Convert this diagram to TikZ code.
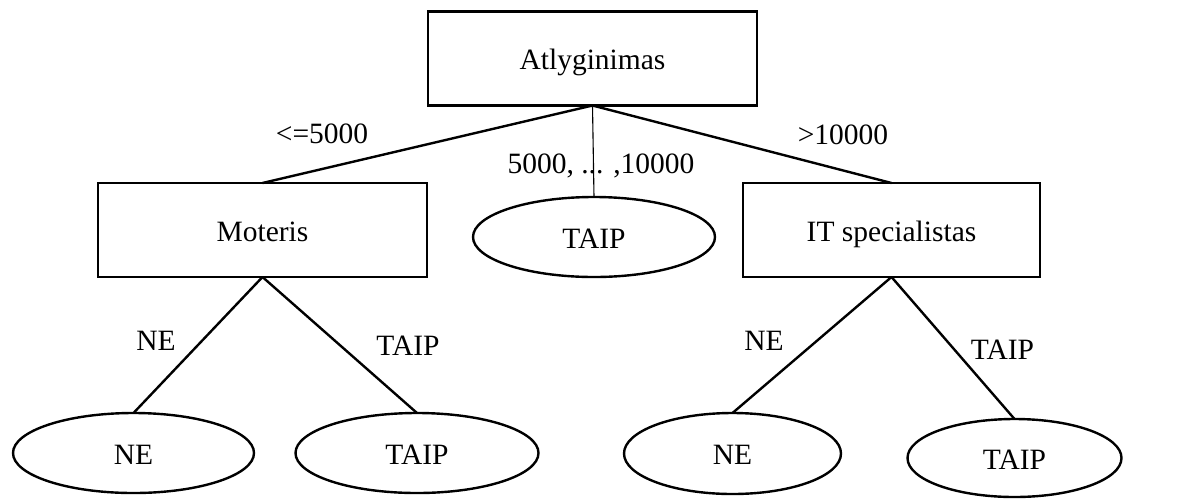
\documentclass[tikz,border=0pt]{standalone}
\usepackage{fontspec}
\setmainfont{Liberation Serif}
\usetikzlibrary{shapes.geometric}
\begin{document}
\begin{tikzpicture}[x=1pt,y=-1pt,
  every node/.style={font=\fontsize{29.5pt}{35pt}\selectfont, inner sep=0pt, outer sep=0pt},
  box/.style={draw, line width=2.4pt, rectangle, minimum height=94pt, text height=26.5pt, text depth=4.5pt},
  leaf/.style={draw, line width=2.4pt, ellipse, text height=26.5pt, text depth=4.5pt},
  edge/.style={line width=2.4pt},
  thinedge/.style={line width=1.1pt},
  lbl/.style={anchor=base}]
\useasboundingbox (0,0) rectangle (1180,499);

% decision nodes
\node[box, minimum width=329pt] (root) at (592.5,58.5) {Atlyginimas};
\node[box, minimum width=329pt] (mot) at (262.5,230) {Moteris};
\node[box, minimum width=297pt] (it) at (891.5,230) {IT specialistas};

% leaves
\node[leaf, minimum width=242pt, minimum height=80pt] (mid) at (594,237) {TAIP};
\node[leaf, minimum width=241pt, minimum height=80pt] (mne) at (133.5,453) {NE};
\node[leaf, minimum width=243pt, minimum height=80pt] (mtaip) at (417,453) {TAIP};
\node[leaf, minimum width=217pt, minimum height=81pt] (ine) at (732.5,453.5) {NE};
\node[leaf, minimum width=214pt, minimum height=78pt] (itaip) at (1014.5,458) {TAIP};

% branches
\draw[edge] (root.south) -- (mot.north);
\draw[thinedge] (root.south) -- (mid.north);
\draw[edge] (root.south) -- (it.north);
\draw[edge] (mot.south) -- (mne.north);
\draw[edge] (mot.south) -- (mtaip.north);
\draw[edge] (it.south) -- (ine.north);
\draw[edge] (it.south) -- (itaip.north);

% branch labels
\node[lbl] (l1) at (322,143) {<=5000};
\node[lbl] (l2) at (601,173) {5000, ... ,10000};
\node[lbl] (l3) at (843,144) {>10000};
\node[lbl] (l4) at (156,350) {NE};
\node[lbl] (l5) at (408,355) {TAIP};
\node[lbl] (l6) at (764,350) {NE};
\node[lbl] (l7) at (1002.5,359) {TAIP};
\end{tikzpicture}
\end{document}
